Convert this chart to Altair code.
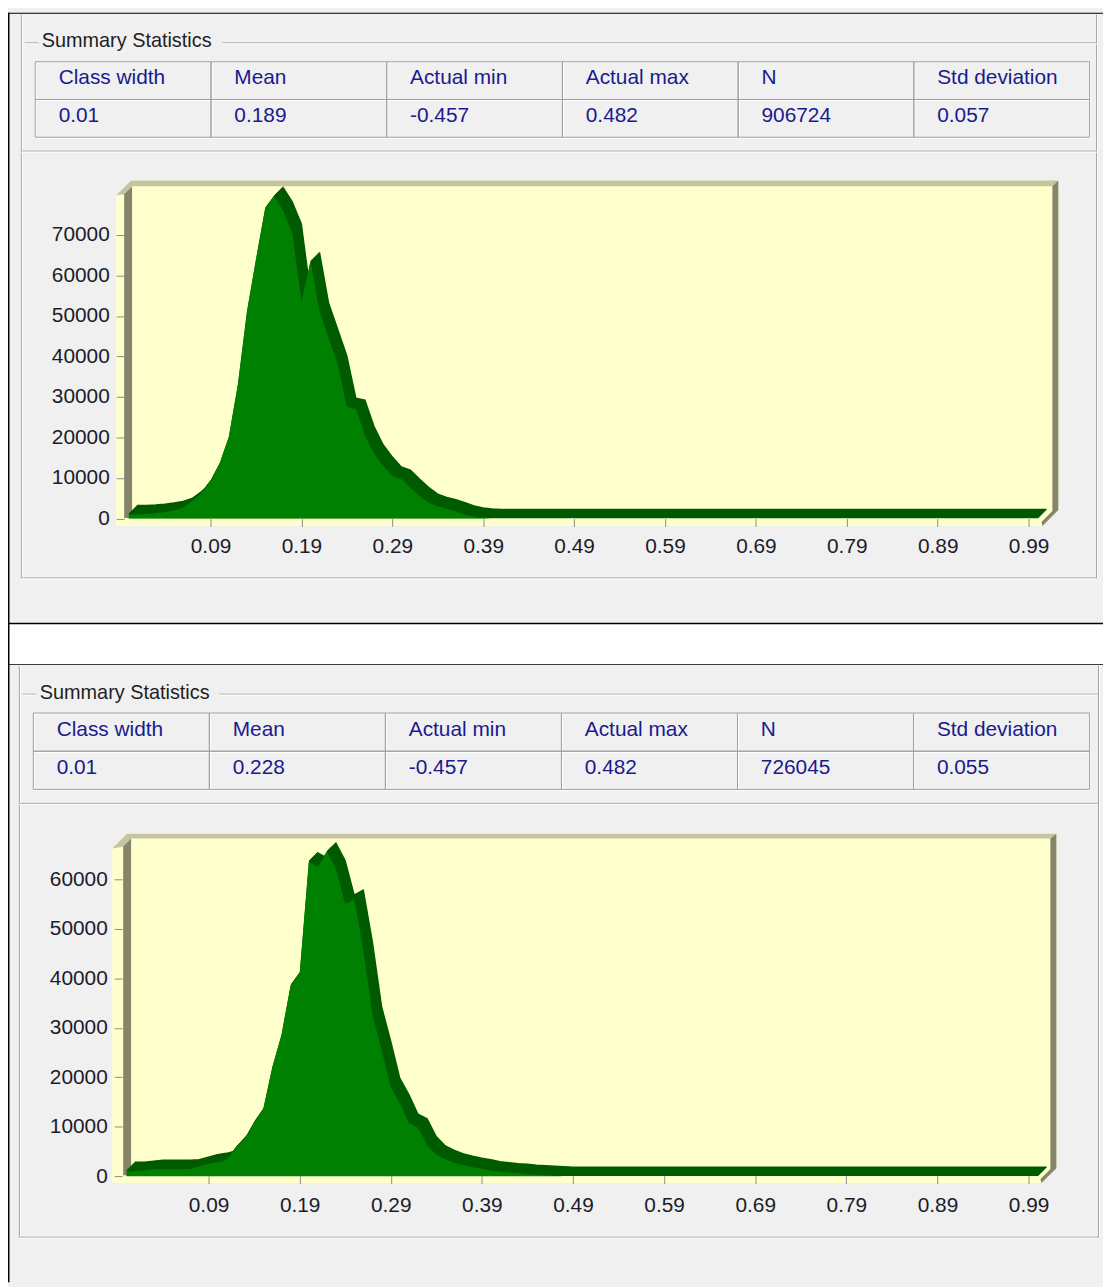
import altair as alt
import pandas as pd

# ---------------- data ----------------
CLASS_WIDTH = 0.01
BINS = [round(i * CLASS_WIDTH, 2) for i in range(101)]

COUNTS_TOP = [
    1000, 1000, 1100, 1300, 1600, 2000, 2700, 4300, 6300, 9200,        # 0.00-0.09
    13500, 20000, 33000, 51000, 64000, 76500, 79500, 76000, 70500, 53500,  # 0.10-0.19
    63500, 51000, 44500, 38000, 27500, 27000, 20500, 16000, 13000, 10500,  # 0.20-0.29
    9700, 7500, 5500, 3800, 3000, 2400, 1700, 900, 400, 100,          # 0.30-0.39
    0, 0, 0, 0, 0, 0, 0, 0, 0, 0,                                     # 0.40-0.49
    0, 0, 0, 0, 0, 0, 0, 0, 0, 0,                                     # 0.50-0.59
    0, 0, 0, 0, 0, 0, 0, 0, 0, 0,                                     # 0.60-0.69
    0, 0, 0, 0, 0, 0, 0, 0, 0, 0,                                     # 0.70-0.79
    0, 0, 0, 0, 0, 0, 0, 0, 0, 0,                                     # 0.80-0.89
    0, 0, 0, 0, 0, 0, 0, 0, 0, 0,                                     # 0.90-0.99
    0,                                                                # 1.00
]

COUNTS_BOTTOM = [
    1000, 1000, 1200, 1400, 1400, 1400, 1400, 1500, 2000, 2500,       # 0.00-0.09
    2800, 3300, 5700, 7600, 10800, 13500, 22000, 28500, 38500, 41000,  # 0.10-0.19
    63500, 62500, 65500, 62000, 55000, 56000, 45500, 32500, 25500, 18000,  # 0.20-0.29
    14700, 10700, 9800, 6200, 4300, 3400, 2700, 2200, 1800, 1500,     # 0.30-0.39
    1100, 900, 700, 600, 400, 300, 200, 100, 0, 0,                    # 0.40-0.49
    0, 0, 0, 0, 0, 0, 0, 0, 0, 0,                                     # 0.50-0.59
    0, 0, 0, 0, 0, 0, 0, 0, 0, 0,                                     # 0.60-0.69
    0, 0, 0, 0, 0, 0, 0, 0, 0, 0,                                     # 0.70-0.79
    0, 0, 0, 0, 0, 0, 0, 0, 0, 0,                                     # 0.80-0.89
    0, 0, 0, 0, 0, 0, 0, 0, 0, 0,                                     # 0.90-0.99
    0,                                                                # 1.00
]

STAT_NAMES = ["Class width", "Mean", "Actual min", "Actual max", "N", "Std deviation"]
STATS_TOP = ["0.01", "0.189", "-0.457", "0.482", "906724", "0.057"]
STATS_BOTTOM = ["0.01", "0.228", "-0.457", "0.482", "726045", "0.055"]

X_TICKS = [0.09, 0.19, 0.29, 0.39, 0.49, 0.59, 0.69, 0.79, 0.89, 0.99]
Y_TICKS_TOP = [0, 10000, 20000, 30000, 40000, 50000, 60000, 70000]
Y_TICKS_BOTTOM = [0, 10000, 20000, 30000, 40000, 50000, 60000]

GROUP_TITLE = "Summary Statistics"

# ---------------- styling ----------------
W, H = 1103, 1279
OX, OY = 8, 8
FONT = "Liberation Sans"
BG = "#f0f0f0"
GREY = "#a0a0a0"
NAVY = "#1a1a8e"
LIGHT = "#008000"
DARK = "#005a00"
WALL = "#ffffcc"
WALL_TOP = "#c4c4a0"
WALL_SIDE = "#85856a"
DEPTH = [1, 2, 3, 4, 5, 6, 7, 8, 9]
CELL_TEXT_INSET = 24

ONE = pd.DataFrame({"k": [0]})


def vx(x):
    return x - OX


def vy(y):
    return y - OY


def box(x1, y1, x2, y2, color):
    return alt.Chart(ONE).mark_rect(color=color, strokeWidth=0, opacity=1).encode(
        x=alt.value(vx(x1)), x2=alt.value(vx(x2)),
        y=alt.value(vy(y1)), y2=alt.value(vy(y2)))


def hrule(x1, x2, y, color):
    return alt.Chart(ONE).mark_rule(color=color, strokeWidth=1).encode(
        x=alt.value(vx(x1)), x2=alt.value(vx(x2)), y=alt.value(vy(y) + 0.5))


def vrule(x, y1, y2, color):
    return alt.Chart(ONE).mark_rule(color=color, strokeWidth=1).encode(
        x=alt.value(vx(x) + 0.5), y=alt.value(vy(y1)), y2=alt.value(vy(y2)))


def etched_h(x1, x2, y):
    return [hrule(x1, x2, y, GREY), hrule(x1, x2, y + 1, "white")]


def etched_v(x, y1, y2):
    return [vrule(x, y1, y2, GREY), vrule(x + 1, y1, y2, "white")]


def polygon(points, color):
    path = "M" + " L".join(f"{vx(px)},{vy(py)}" for px, py in points) + " Z"
    return alt.Chart(ONE).mark_point(
        shape=path, size=4, filled=True, color=color, opacity=1, strokeWidth=0
    ).encode(x=alt.value(0), y=alt.value(0))


def label(text, x, y):
    return alt.Chart(ONE).mark_text(
        align="left", baseline="middle", font=FONT, fontSize=20, color="#1e1e1e"
    ).encode(x=alt.value(vx(x)), y=alt.value(vy(y)), text=alt.value(text))


def table(values, x_range, y_range):
    df = pd.DataFrame({
        "stat": STAT_NAMES * 2,
        "row": ["head"] * len(STAT_NAMES) + ["value"] * len(STAT_NAMES),
        "label": STAT_NAMES + values,
    })
    half_band = (x_range[1] - x_range[0]) / len(STAT_NAMES) / 2
    xsc = alt.Scale(domain=STAT_NAMES, range=x_range, paddingInner=0, paddingOuter=0)
    ysc = alt.Scale(domain=["head", "value"], range=y_range, paddingInner=0, paddingOuter=0)
    base = alt.Chart(df)
    enc = dict(x=alt.X("stat:N", scale=xsc, axis=None),
               y=alt.Y("row:N", scale=ysc, axis=None))
    white = base.mark_rect(fillOpacity=0, stroke="white", strokeWidth=1,
                           xOffset=1.5, yOffset=1.5).encode(**enc)
    grey = base.mark_rect(fillOpacity=0, stroke=GREY, strokeWidth=1,
                          xOffset=0.5, yOffset=0.5).encode(**enc)
    text = base.mark_text(align="left", baseline="middle",
                          dx=CELL_TEXT_INSET - half_band, dy=-2,
                          font=FONT, fontSize=21, color=NAVY).encode(
        text="label:N", **enc)
    return [white, grey, text]


def histogram(counts, x_range, y_domain, y_range, y_ticks, y_axis_x, x_axis_y,
              x_label_pad):
    df = pd.DataFrame({"x": BINS, "count": counts})
    xs = alt.Scale(domain=[0, 1], range=x_range, nice=False, zero=False)
    ys = alt.Scale(domain=y_domain, range=y_range, nice=False, zero=False)
    layers = []
    for k in DEPTH:
        layers.append(alt.Chart(df).mark_area(
            color=DARK, stroke=DARK, strokeWidth=1.5, opacity=1,
            xOffset=k, yOffset=-k, y2Offset=-k
        ).encode(x=alt.X("x:Q", scale=xs, axis=None),
                 y=alt.Y("count:Q", scale=ys, axis=None)))
    axis_style = dict(labelFont=FONT, labelFontSize=21, labelColor="#1c1c2a",
                      tickColor="#8a8a8a", tickWidth=1, domain=False, grid=False,
                      zindex=1, labelFlush=False, labelOverlap=False, title=None)
    front = alt.Chart(df).mark_area(color=LIGHT, opacity=1).encode(
        x=alt.X("x:Q", scale=xs, axis=alt.Axis(
            orient="bottom", values=X_TICKS, format=".2f", tickSize=8,
            labelPadding=x_label_pad, offset=vy(x_axis_y) - H, **axis_style)),
        y=alt.Y("count:Q", scale=ys, axis=alt.Axis(
            orient="left", values=y_ticks, format="d", tickSize=8,
            labelPadding=7, offset=-vx(y_axis_x), **axis_style)),
    )
    return layers + [front]


layers = []

# outer black borders and the white gap between the two screenshots
layers += [box(8, 8, 1111, 9, "black"), box(8, 8, 9.5, 1287, "black"),
           box(8, 622.5, 1111, 665, "black"), box(9.5, 624, 1111, 664, "white")]

# ---------- top screenshot ----------
layers += etched_v(21, 10, 578) + etched_v(1104, 10, 578)
layers += etched_h(25, 39, 38) + etched_h(224, 1105, 38)
layers += etched_h(21, 1105, 147) + etched_h(21, 1105, 577)
layers.append(label(GROUP_TITLE, 42, 37))
layers += table(STATS_TOP, [vx(35), vx(1097)], [vy(57), vy(133)])
layers.append(polygon([(117, 192), (132, 177), (1066, 177), (1066, 509),
                       (1050, 525), (117, 525)], WALL))
layers.append(polygon([(117, 192), (132, 177), (1066, 177), (1060, 183),
                       (133, 183), (125, 191)], WALL_TOP))
layers.append(polygon([(125, 191), (133, 183), (133, 517), (125, 517)], WALL_SIDE))
layers.append(polygon([(1060, 183), (1066, 177), (1066, 509), (1050, 525),
                       (1049, 521), (1060, 510)], WALL_SIDE))
layers += histogram(COUNTS_TOP, [vx(129.6), vx(1045.2)], [0, 70000],
                    [vy(517.5), vy(232)], Y_TICKS_TOP, 125, 517.5, 9)

# ---------- bottom screenshot ----------
layers += etched_v(19, 666, 1242) + etched_v(1106, 666, 1242)
layers += etched_h(23, 36, 694) + etched_h(221, 1106, 694)
layers += etched_h(19, 1106, 804) + etched_h(19, 1106, 1241)
layers.append(label(GROUP_TITLE, 40, 693))
layers += table(STATS_BOTTOM, [vx(33), vx(1097)], [vy(713), vy(790)])
layers.append(polygon([(113, 850), (128, 835), (1064, 835), (1064, 1172),
                       (1049, 1187), (113, 1187)], WALL))
layers.append(polygon([(113, 850), (128, 835), (1064, 835), (1058, 840),
                       (132, 840), (124, 848)], WALL_TOP))
layers.append(polygon([(124, 848), (132, 840), (132, 1179), (124, 1179)], WALL_SIDE))
layers.append(polygon([(1058, 840), (1064, 835), (1064, 1172), (1049, 1187),
                       (1048, 1183), (1058, 1173)], WALL_SIDE))
layers += histogram(COUNTS_BOTTOM, [vx(127.4), vx(1045.2)], [0, 60000],
                    [vy(1180), vy(881)], Y_TICKS_BOTTOM, 123, 1179.5, 11)

chart = alt.layer(*layers).resolve_scale(
    x="independent", y="independent"
).resolve_axis(
    x="independent", y="independent"
).properties(
    width=W, height=H, padding=0, background=BG,
    autosize=alt.AutoSizeParams(type="none"),
).configure_view(stroke=None)

chart.save("out.html", embed_options={"renderer": "svg", "actions": False})
